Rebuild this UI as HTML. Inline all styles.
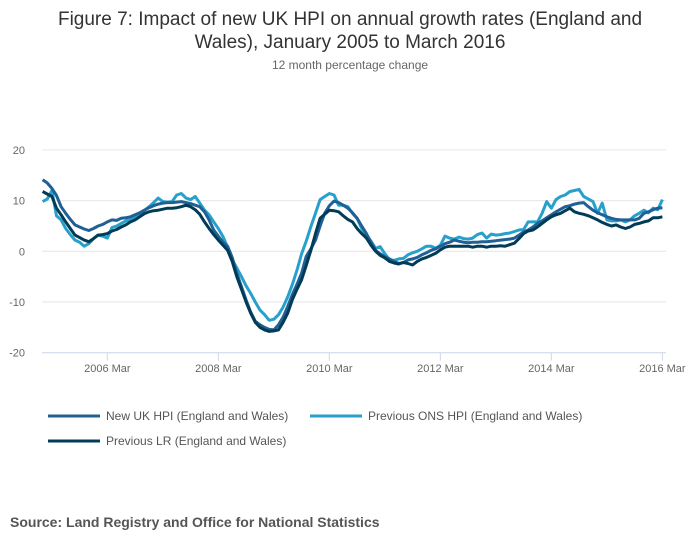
<!DOCTYPE html>
<html><head><meta charset="utf-8"><style>
body{margin:0;background:#fff;font-family:"Liberation Sans",sans-serif;}
#wrap{position:relative;width:700px;height:549px;overflow:hidden;}
</style></head><body>
<div id="wrap">
<svg id="chart" width="700" height="549">
<text x="350" y="25" text-anchor="middle" font-size="19" fill="#333">Figure 7: Impact of new UK HPI on annual growth rates (England and</text>
<text x="350" y="48" text-anchor="middle" font-size="19" fill="#333">Wales), January 2005 to March 2016</text>
<text x="350" y="69" text-anchor="middle" font-size="12" fill="#666">12 month percentage change</text>
<g id="grid"></g><g id="series"></g>
<g>
<g><line x1="48" y1="416" x2="100" y2="416" stroke="#206095" stroke-width="3"/><text x="106" y="420" font-size="12" fill="#555">New UK HPI (England and Wales)</text></g>
<g><line x1="310" y1="416" x2="362" y2="416" stroke="#27a0cc" stroke-width="3"/><text x="368" y="420" font-size="12" fill="#555">Previous ONS HPI (England and Wales)</text></g>
<g><line x1="48" y1="441" x2="100" y2="441" stroke="#003c57" stroke-width="3"/><text x="106" y="445" font-size="12" fill="#555">Previous LR (England and Wales)</text></g>
</g>
<text x="10" y="527" font-size="14" font-weight="bold" fill="#555">Source: Land Registry and Office for National Statistics</text>
</svg></div>
<script>
const yTicks=[20,10,0,-10,-20];
const xTickLabels=["2006 Mar","2008 Mar","2010 Mar","2012 Mar","2014 Mar","2016 Mar"];
const xTickMonths=[14,38,62,86,110,134];
const newHPI=[14.1,13.5,12.4,11,8.8,7.5,6.3,5.2,4.8,4.4,4.1,4.5,
5.0,5.3,5.8,6.2,6.1,6.5,6.6,6.8,7.2,7.6,8.1,8.6,
9.0,9.3,9.5,9.6,9.6,9.7,9.8,9.6,9.4,9.1,8.8,7.8,
6.2,4.2,3.0,1.8,1.0,-1.2,-4.3,-7.0,-9.6,-12.0,-13.8,-14.5,
-15.0,-15.4,-15.5,-14.5,-13.0,-10.9,-8.5,-6.5,-4.3,-1.0,0.5,2.2,
5.0,7.5,9.0,9.9,9.6,9.1,8.5,7.6,6.5,5.0,3.5,1.8,
0.2,-0.5,-1.1,-1.5,-2.0,-2.4,-2.2,-1.7,-1.5,-1.2,-0.7,-0.3,
0.2,0.5,1.0,1.5,1.8,2.2,2.0,1.8,1.7,1.8,1.8,1.9,
1.9,2.0,2.1,2.2,2.3,2.4,2.6,3.2,3.8,4.2,4.8,5.5,
6.0,6.6,7.2,7.8,8.3,8.8,9.0,9.3,9.5,9.6,8.8,8.1,
7.6,7.2,6.8,6.5,6.3,6.2,6.2,6.2,6.2,6.5,7.5,7.8,8.2,8.5,8.6];
const prevONS=[9.8,10.3,12.0,7.0,6.2,4.5,3.3,2.2,1.8,1.0,1.5,2.5,
3.2,3.0,2.6,4.7,5.0,5.5,6.0,6.2,6.8,7.4,8.0,8.8,
9.6,10.5,9.8,9.7,9.8,11.1,11.4,10.5,10.2,10.8,9.5,8.1,
7.2,5.8,4.5,2.9,0.8,-1.7,-3.3,-5.0,-6.8,-8.3,-10.0,-11.6,
-12.5,-13.6,-13.4,-12.5,-11.0,-9.0,-6.5,-3.7,-0.5,2.0,4.9,7.5,
10.2,10.8,11.4,11.1,9.1,9.1,8.8,7.5,6.5,4.5,3.2,2.0,
0.6,0.9,-0.5,-1.7,-1.8,-1.5,-1.4,-0.7,-0.3,0.0,0.5,1.0,
1.0,0.6,1.2,3.0,2.6,2.4,2.8,2.5,2.4,2.6,3.3,3.6,
2.6,3.4,3.2,3.3,3.5,3.6,3.9,4.2,4.3,5.8,5.8,5.8,
7.5,9.8,8.5,10.2,10.8,11.1,11.8,12.0,12.2,10.8,10.3,9.8,
7.5,9.5,6.2,6.0,6.0,6.2,5.8,6.2,7.0,7.5,8.1,7.6,8.5,8.2,10.2];
const prevLR=[11.8,11.3,10.8,8.5,7.2,5.8,4.5,3.2,2.7,2.2,1.9,2.5,
3.2,3.3,3.5,4.0,4.3,4.8,5.2,5.8,6.2,6.8,7.4,7.8,
8.0,8.1,8.3,8.5,8.5,8.6,8.8,9.1,8.8,8.2,7.3,5.8,
4.5,3.3,2.2,1.2,0.2,-2.0,-5.0,-7.5,-10.0,-12.2,-14.0,-15.0,
-15.5,-15.8,-15.7,-15.5,-14.0,-12.2,-9.5,-7.5,-5.6,-2.8,0.2,3.5,
6.5,7.3,8.1,8.0,7.8,7.0,6.3,5.8,4.5,3.5,2.6,1.2,
0.0,-0.8,-1.3,-2.0,-2.3,-2.5,-2.2,-2.4,-2.7,-2.0,-1.5,-1.2,
-0.8,-0.4,0.3,0.8,1.0,1.0,1.0,1.0,1.0,0.8,1.0,1.0,
0.8,1.0,1.0,1.1,1.0,1.3,1.6,2.5,3.5,4.0,4.2,4.8,
5.5,6.2,6.8,7.2,7.5,8.0,8.5,7.8,7.5,7.3,7.0,6.6,
6.2,5.7,5.3,5.0,5.2,4.8,4.5,4.8,5.3,5.5,5.8,6.0,6.6,6.6,6.8];

const NS="http://www.w3.org/2000/svg";
const x=m=>42.6+m*4.625;
const y=v=>251.3-v*5.07;
const grid=document.getElementById('grid');
function mk(tag,attrs,parent){const e=document.createElementNS(NS,tag);for(const k in attrs)e.setAttribute(k,attrs[k]);parent.appendChild(e);return e;}
yTicks.forEach(t=>{
  if(t!==-20){const g=mk('line',{x1:42,x2:666,y1:y(t),y2:y(t),stroke:'#e6e6e6','stroke-width':1},grid);
  
  }
  const l=mk('text',{x:25,y:y(t)+4,'text-anchor':'end','font-size':11,fill:'#666'},grid);
  l.textContent=t;
  
  
});
const ax=mk('line',{x1:42,x2:666,y1:y(-20),y2:y(-20),stroke:'#ccd6eb','stroke-width':1},grid);


xTickMonths.forEach((m,i)=>{
  const tk=mk('line',{x1:x(m),x2:x(m),y1:y(-20),y2:y(-20)+8,stroke:'#ccd6eb'},grid);
  
  
  const l=mk('text',{x:x(m),y:372,'text-anchor':'middle','font-size':11,fill:'#666'},grid);
  l.textContent=xTickLabels[i];
  
  
});
const ser=document.getElementById('series');
[[prevONS,'#27a0cc','series-previous-ons-hpi'],[newHPI,'#206095','series-new-uk-hpi'],[prevLR,'#003c57','series-previous-lr']].forEach(s=>{
  const d=s[0].map((v,i)=>(i?'L':'M')+x(i).toFixed(1)+','+y(v).toFixed(1)).join('');
  const p=mk('path',{d:d,fill:'none',stroke:s[1],'stroke-width':3,'stroke-linejoin':'round'},ser);
  
  
});
</script>
</body></html>
